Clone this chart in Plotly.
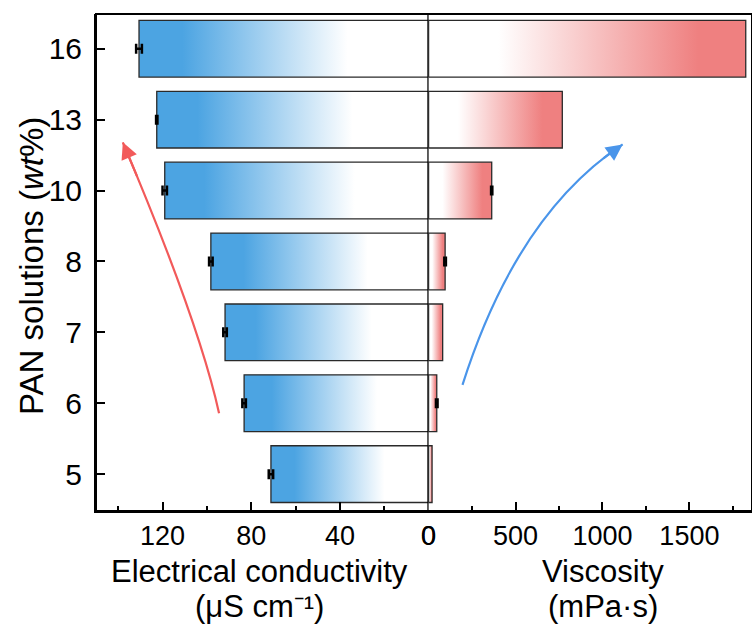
import plotly.graph_objects as go

# ---------------- data ----------------
categories = ["5", "6", "7", "8", "10", "13", "16"]
conductivity = [71.1, 83.2, 91.8, 98.2, 119.0, 122.6, 130.6]      # µS cm-1
conductivity_err = [1.0, 0.8, 0.8, 0.8, 1.0, 0.3, 1.3]
viscosity = [20, 47, 81, 95, 363, 769, 1824]                      # mPa·s
viscosity_err = [0, 6, 0, 6, 5, 0, 0]

cond_ticks = [120, 80, 40, 0]
cond_minor = [140, 100, 60, 20]
visc_ticks = [0, 500, 1000, 1500]
visc_minor = [250, 750, 1250, 1750]

BLUE = "#4ca4e2"
RED = "#ef8080"
FONT = "Liberation Sans, Arial, sans-serif"
HALF = 0.4
SPLIT = 0.507

fig = go.Figure()

# left axis is reversed: gradient runs left (bar end, blue) -> right (zero, white)
blue_scale = [[0, BLUE], [0.15, BLUE], [0.72, "white"], [1, "white"]]
red_scale = [[0, "white"], [0.22, "white"], [0.85, RED], [1, RED]]

for i, v in enumerate(conductivity):
    fig.add_trace(go.Scatter(
        x=[0, v, v, 0, 0], y=[i - HALF, i - HALF, i + HALF, i + HALF, i - HALF],
        mode="lines", fill="toself", line=dict(color="#2a2a2a", width=1.3),
        fillgradient=dict(type="horizontal", colorscale=blue_scale),
        xaxis="x", yaxis="y", showlegend=False, hoverinfo="skip"))

for i, v in enumerate(viscosity):
    fig.add_trace(go.Scatter(
        x=[0, v, v, 0, 0], y=[i - HALF, i - HALF, i + HALF, i + HALF, i - HALF],
        mode="lines", fill="toself", line=dict(color="#2a2a2a", width=1.3),
        fillgradient=dict(type="horizontal", colorscale=red_scale),
        xaxis="x2", yaxis="y", showlegend=False, hoverinfo="skip"))

# error bars
fig.add_trace(go.Scatter(
    x=conductivity, y=list(range(len(categories))), mode="markers",
    marker=dict(size=1, color="black", opacity=0),
    error_x=dict(type="data", array=conductivity_err, color="black", thickness=2.5, width=5),
    xaxis="x", yaxis="y", showlegend=False, hoverinfo="skip"))
idx = [i for i, e in enumerate(viscosity_err) if e > 0]
fig.add_trace(go.Scatter(
    x=[viscosity[i] for i in idx], y=idx, mode="markers",
    marker=dict(size=1, color="black", opacity=0),
    error_x=dict(type="data", array=[viscosity_err[i] for i in idx], color="black",
                 thickness=2, width=5),
    xaxis="x2", yaxis="y", showlegend=False, hoverinfo="skip"))

common = dict(showline=True, linecolor="black", linewidth=2, ticks="inside",
              ticklen=9, tickwidth=2, tickcolor="black", showgrid=False,
              zeroline=False, automargin=False)
xtickfont = dict(family=FONT, size=27, color="black")
ytickfont = dict(family=FONT, size=30, color="black")

fig.update_layout(
    width=752, height=626,
    margin=dict(l=96, r=0, t=14, b=115, autoexpand=False),
    paper_bgcolor="white", plot_bgcolor="white",
    xaxis=dict(domain=[0, SPLIT], range=[150, 0], tickvals=cond_ticks, anchor="y",
               tickfont=xtickfont,
               minor=dict(tickvals=cond_minor, ticklen=5, tickwidth=2, tickcolor="black",
                          ticks="inside"),
               **common),
    xaxis2=dict(domain=[SPLIT, 1], range=[0, 1860], tickvals=visc_ticks, anchor="y",
                tickfont=xtickfont,
                minor=dict(tickvals=visc_minor, ticklen=5, tickwidth=2, tickcolor="black",
                           ticks="inside"),
                **common),
    yaxis=dict(range=[-0.52, 6.49], tickvals=list(range(len(categories))),
               ticktext=categories, anchor="x", tickfont=ytickfont,
               ticklabelstandoff=6, **common),
)

# frame and centre line
fig.add_shape(type="rect", xref="paper", yref="paper", x0=0, x1=1, y0=0, y1=1,
              line=dict(color="black", width=2))
fig.add_shape(type="line", xref="x", yref="paper", x0=0, x1=0, y0=0, y1=1,
              line=dict(color="black", width=2.5))

# curved arrows
def bez(p0, c, p2, t):
    return ((1 - t) ** 2 * p0[0] + 2 * (1 - t) * t * c[0] + t ** 2 * p2[0],
            (1 - t) ** 2 * p0[1] + 2 * (1 - t) * t * c[1] + t ** 2 * p2[1])

arrows = [
    ("x", (94.5, 0.86), (103.6, 2.15), (137.9, 4.68), "#f25a5a"),
    ("x2", (195, 1.26), (506, 3.66), (1116, 4.65), "#4a95ea"),
]
for xr, p0, c, p2, col in arrows:
    fig.add_shape(type="path", xref=xr, yref="y",
                  path=f"M {p0[0]},{p0[1]} Q {c[0]},{c[1]} {p2[0]},{p2[1]}",
                  line=dict(color=col, width=2.2))
    tail = bez(p0, c, p2, 0.9)
    fig.add_annotation(x=p2[0], y=p2[1], ax=tail[0], ay=tail[1], xref=xr, yref="y",
                       axref=xr, ayref="y", text="", showarrow=True, arrowhead=2,
                       arrowsize=1.5, arrowwidth=2.2, arrowcolor=col)

titlefont = dict(family=FONT, size=31, color="black")

def py2paper(py):
    return 1 - (py - 14) / 497

def px2paper(px):
    return (px - 96) / 656

bottom_titles = [
    (259, 571, "Electrical conductivity"),
    (259, 606, "(μS cm⁻¹)"),
    (603, 571, "Viscosity"),
    (603, 606, "(mPa·s)"),
]
for px, py, txt in bottom_titles:
    fig.add_annotation(text=txt, x=px2paper(px), y=py2paper(py), xref="paper",
                       yref="paper", xanchor="center", yanchor="middle",
                       borderpad=0, showarrow=False, font=titlefont)

fig.add_annotation(text="PAN solutions (<i>wt</i>%)", textangle=-90,
                   x=px2paper(31), y=py2paper(266), xref="paper", yref="paper",
                   xanchor="center", yanchor="middle", showarrow=False,
                   font=dict(family=FONT, size=33, color="black"))

fig.write_html("out.html")
